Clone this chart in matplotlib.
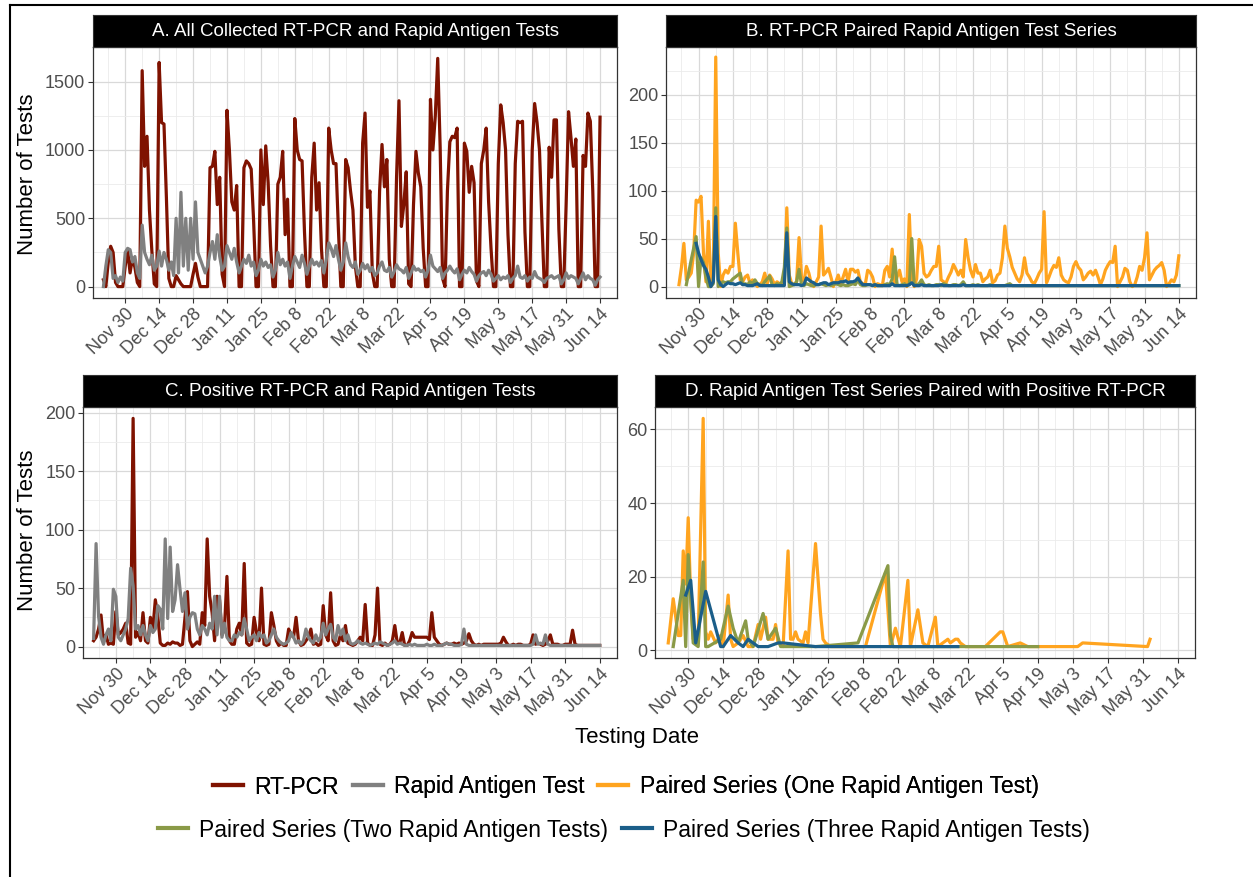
import numpy as np
import pandas as pd
import matplotlib
matplotlib.use("Agg")
import matplotlib.pyplot as plt
import matplotlib.dates as mdates
from matplotlib.lines import Line2D
from matplotlib.ticker import FuncFormatter, MultipleLocator

plt.rcParams['font.family'] = ['Liberation Sans', 'DejaVu Sans']

nan = np.nan
start = pd.Timestamp('2020-11-21')   # first day of data (Saturday)

# ---- daily series, one row per week (Sat..Fri) ----
# A. all collected RT-PCR
rt_all = [50, 0, 180, 295, 250, 30, 0,
          0, 0, 150, 270, 100, 210, 140,
          30, 0, 1580, 880, 1100, 560, 260,
          20, 0, 1640, 1200, 1190, 650, 60,
          0, 0, 80, 50, 20, 0, 0,
          0, 0, 90, 170, 70, 0, 0,
          0, 0, 870, 880, 990, 600, 800,
          90, 0, 1290, 1000, 620, 560, 740,
          0, 0, 870, 920, 900, 860, 480,
          0, 0, 1000, 600, 1030, 760, 300,
          0, 0, 750, 800, 990, 380, 640,
          0, 0, 1230, 1000, 930, 920, 400,
          0, 0, 800, 1050, 560, 760, 280,
          0, 0, 1160, 1000, 900, 900, 420,
          0, 0, 930, 870, 700, 560, 150,
          0, 0, 1050, 1270, 580, 700, 100,
          0, 0, 700, 1040, 730, 930, 200,
          0, 0, 800, 1360, 440, 600, 840,
          20, 0, 600, 990, 830, 730, 280,
          0, 0, 1370, 1000, 1250, 1670, 1020,
          60, 0, 700, 1060, 1100, 1090, 1160,
          0, 0, 1050, 990, 690, 880, 760,
          40, 0, 900, 1000, 1160, 620, 280,
          0, 0, 900, 1330, 1200, 1000, 380,
          0, 0, 900, 1210, 1200, 1210, 400,
          0, 0, 1000, 1340, 1200, 1000, 480,
          0, 0, 1020, 800, 1220, 1220, 420,
          0, 0, 600, 1280, 1090, 880, 1080,
          0, 0, 960, 880, 1270, 1210, 700,
          0, 0, 1240]

# A. all collected rapid antigen tests
rat_all = [0, 150, 270, 250, 60, 80, 30,
           70, 40, 250, 280, 270, 180, 220,
           100, 60, 450, 250, 200, 160, 230,
           120, 150, 260, 150, 250, 200, 120,
           180, 80, 500, 100, 690, 150, 500,
           120, 500, 200, 620, 250, 200, 150,
           100, 150, 250, 330, 200, 380, 220,
           120, 150, 300, 250, 200, 280, 180,
           100, 150, 200, 170, 230, 150, 180,
           80, 120, 200, 150, 180, 140, 160,
           70, 120, 250, 160, 200, 150, 180,
           60, 150, 220, 180, 140, 230, 170,
           90, 150, 200, 160, 180, 150, 190,
           100, 200, 320, 280, 220, 300, 200,
           120, 180, 320, 220, 160, 140, 180,
           90, 120, 170, 130, 160, 110, 140,
           80, 100, 150, 180, 120, 110, 140,
           70, 110, 160, 130, 120, 100, 140,
           60, 100, 150, 120, 130, 110, 120,
           70, 120, 230, 150, 130, 110, 140,
           60, 100, 120, 150, 120, 100, 130,
           50, 90, 120, 100, 140, 110, 90,
           40, 80, 100, 110, 80, 120, 90,
           40, 60, 80, 50, 70, 60, 80,
           30, 60, 80, 150, 70, 60, 80,
           40, 70, 60, 110, 70, 60, 50,
           30, 60, 70, 80, 60, 70, 80,
           20, 50, 100, 60, 80, 70, 60,
           20, 60, 100, 50, 80, 60, 50,
           10, 50, 70]

# C. positive RT-PCR
rt_pos = [5, 8, 15, 27, 4, 10, 2,
          3, 2, 30, 10, 12, 15, 20,
          3, 2, 195, 8, 12, 5, 29,
          5, 3, 25, 15, 40, 26, 3,
          1, 1, 3, 2, 4, 3, 3,
          1, 2, 25, 47, 5, 0, 2,
          4, 2, 29, 18, 92, 43, 29,
          5, 43, 40, 10, 15, 60, 5,
          2, 2, 15, 20, 10, 71, 3,
          1, 2, 25, 12, 5, 50, 2,
          1, 2, 29, 18, 5, 1, 3,
          1, 1, 15, 10, 8, 25, 5,
          1, 2, 5, 8, 15, 2, 3,
          1, 2, 35, 10, 5, 46, 5,
          1, 2, 10, 5, 18, 3, 2,
          1, 2, 5, 8, 5, 36, 3,
          1, 1, 10, 50, 2, 1, 3,
          1, 2, 5, 18, 3, 3, 12,
          1, 1, 5, 12, 8, 8, 8,
          8, 8, 8, 6, 29, 8, 5,
          2, 1, 2, 3, 2, 2, 3,
          2, 3, 2, 3, 5, 11, 5,
          2, 1, 2, 1, 2, 2, 2,
          2, 2, 2, 2, 3, 8, 4,
          1, 1, 2, 1, 2, 2, 1,
          1, 1, 2, 10, 2, 3, 2,
          1, 2, 5, 10, 2, 2, 2,
          1, 1, 2, 2, 2, 14, 2,
          1, 1, 1, 1, 1, 1, 1,
          1, 1, 1]

# C. positive rapid antigen tests
rat_pos = [7, 88, 26, 8, 2, 10, 15,
           5, 49, 43, 8, 5, 10, 15,
           24, 67, 52, 15, 18, 10, 18,
           10, 5, 18, 12, 15, 35, 32,
           15, 92, 24, 85, 30, 40, 70,
           49, 30, 46, 15, 25, 29, 28,
           15, 10, 18, 15, 10, 20, 15,
           43, 10, 43, 8, 20, 8, 5,
           5, 10, 8, 12, 10, 24, 15,
           5, 8, 10, 5, 12, 8, 10,
           3, 5, 10, 15, 8, 5, 3,
           2, 3, 5, 12, 8, 3, 5,
           2, 5, 15, 8, 5, 3, 10,
           5, 8, 20, 10, 15, 19, 8,
           5, 18, 10, 15, 5, 10, 3,
           2, 3, 5, 3, 2, 3, 2,
           1, 2, 3, 2, 4, 3, 2,
           1, 2, 3, 5, 2, 3, 2,
           1, 1, 2, 1, 2, 1, 1,
           1, 1, 2, 1, 1, 2, 1,
           1, 1, 2, 3, 2, 2, 1,
           1, 1, 2, 15, 2, 1, 1,
           1, 1, 1, 1, 1, 1, 1,
           1, 1, 1, 1, 1, 1, 1,
           1, 1, 1, 1, 1, 1, 1,
           1, 1, 1, 2, 10, 2, 3,
           2, 10, 2, 1, 1, 1, 1,
           1, 1, 1, 1, 1, 1, 1,
           1, 1, 1, 1, 1, 1, 1,
           1, 1, 1]

# B. paired series
pair_one = [nan, 2, 20, 45, 7, 10, 14,
            35, 90, 88, 94, 35, 5, 68,
            2, 15, 239, 35, 0, 12, 17,
            14, 21, 21, 66, 35, 7, 5,
            10, 12, 3, 7, 3, 0, 2,
            5, 14, 3, 12, 8, 2, 5,
            3, 2, 5, 82, 12, 3, 2,
            5, 51, 10, 5, 21, 14, 3,
            0, 5, 10, 63, 12, 15, 19,
            10, 0, 5, 12, 3, 10, 18,
            5, 18, 18, 15, 17, 5, 3,
            2, 17, 15, 10, 0, 3, 2,
            1, 17, 21, 10, 39, 2, 10,
            17, 5, 8, 0, 75, 10, 0,
            8, 49, 42, 14, 10, 12, 17,
            21, 21, 42, 7, 5, 4, 10,
            15, 23, 18, 12, 17, 10, 49,
            30, 17, 10, 23, 14, 14, 5,
            8, 10, 17, 4, 6, 12, 14,
            30, 63, 40, 31, 20, 14, 8,
            5, 12, 30, 14, 10, 5, 3,
            8, 14, 18, 78, 4, 10, 17,
            22, 20, 30, 12, 7, 5, 4,
            10, 21, 26, 20, 17, 7, 10,
            14, 16, 12, 17, 10, 2, 8,
            17, 22, 26, 25, 42, 0, 5,
            10, 19, 17, 5, 0, 2, 10,
            21, 17, 30, 56, 7, 12, 17,
            20, 22, 25, 17, 0, 3, 7,
            5, 12, 32]

pair_two = [nan, nan, nan, nan, 2, 15, 28,
            40, 52, 0, 30, 25, 10, 0,
            0, 3, 82, 0, 3, 5, 4,
            5, 5, 8, 10, 12, 14, 2,
            3, 2, 5, 3, 7, 3, 2,
            1, 5, 8, 11, 2, 1, 3,
            2, 5, 20, 61, 0, 1, 2,
            5, 18, 2, 1, 3, 2, 1,
            1, 2, 2, 3, 2, 1, 2,
            1, 2, 3, 2, 1, 2, 1,
            1, 2, 3, 2, 7, 2, 1,
            1, 2, 2, 1, 2, 1, 1,
            1, 2, 3, 2, 8, 31, 2,
            1, 2, 3, 1, 2, 50, 1,
            2, 3, 7, 2, 1, 2, 1,
            1, 2, 2, 1, 3, 2, 1,
            1, 2, 2, 1, 2, 5, 1,
            1, 1, 2, 1, 2, 1, 1,
            1, 1, 2, 1, 1, 1, 1,
            1, 1, 2, 3, 1, 1, 1,
            1, 1, 1, 1, 1, 1, 1,
            1, 1, 1, 1, 1, 1, 1,
            1, 1, 1, 1, 1, 1, 1,
            1, 1, 1, 1, 1, 1, 1,
            1, 1, 1, 1, 1, 1, 1,
            1, 1, 1, 1, 1, 1, 1,
            1, 1, 1, 1, 1, 1, 1,
            1, 1, 1, 1, 1, 1, 1,
            1, 1, 1, 1, 1, 1, 1,
            1, 1, 1]

pair_three = [nan, nan, nan, nan, nan, nan, nan,
              nan, 45, 35, 28, 22, 18, 10,
              0, 5, 73, 7, 2, 0, 2,
              4, 3, 3, 2, 3, 4, 2,
              2, 1, 1, 1, 2, 3, 1,
              1, 1, 1, 1, 1, 1, 1,
              1, 1, 1, 56, 5, 3, 2,
              2, 2, 1, 2, 9, 7, 5,
              4, 2, 2, 3, 4, 4, 2,
              3, 4, 4, 4, 5, 5, 6,
              4, 5, 5, 6, 9, 5, 2,
              2, 2, 2, 1, 2, 1, 1,
              1, 1, 1, 1, 3, 1, 1,
              1, 1, 1, 1, 2, 4, 1,
              1, 1, 2, 1, 1, 1, 1,
              1, 1, 1, 2, 1, 1, 1,
              1, 1, 1, 1, 1, 2, 1,
              1, 1, 1, 1, 1, 1, 1,
              1, 1, 1, 1, 1, 1, 1,
              1, 1, 1, 1, 1, 1, 1,
              1, 1, 1, 1, 1, 1, 1,
              1, 1, 1, 1, 1, 1, 1,
              1, 1, 1, 1, 1, 1, 1,
              1, 1, 1, 1, 1, 1, 1,
              1, 1, 1, 1, 1, 1, 1,
              1, 1, 1, 1, 1, 1, 1,
              1, 1, 1, 1, 1, 1, 1,
              1, 1, 1, 1, 1, 1, 1,
              1, 1, 1, 1, 1, 1, 1,
              1, 1, 1]

# D. paired with positive RT-PCR (sparse days, offset from start)
pos_one_day = [1, 3, 5, 6, 7, 8, 9, 10, 11, 12, 13, 15, 16, 17, 18, 20, 22, 23, 25, 26,
               27, 29, 31, 33, 35, 37, 38, 40, 41, 43, 44, 45, 47, 49, 50, 51, 52, 53, 55, 56,
               57, 60, 62, 63, 64, 66, 70, 80, 88, 90, 92, 94, 97, 98, 101, 103, 105, 108, 109, 111,
               113, 114, 116, 117, 118, 120, 128, 134, 135, 137, 142, 145, 165, 167, 193, 194]
pos_one_val = [2, 14, 4, 4, 27, 18, 36, 14, 3, 5, 3, 63, 5, 3, 5, 2, 4, 1, 15, 3,
               1, 2, 4, 1, 1, 7, 3, 9, 3, 3, 7, 2, 1, 27, 3, 3, 5, 3, 2, 5,
               2, 29, 10, 3, 2, 1, 1, 1, 21, 1, 6, 1, 19, 1, 11, 2, 1, 9, 1, 2,
               3, 2, 3, 3, 2, 1, 1, 5, 5, 1, 2, 1, 1, 2, 1, 3]
pos_two_day = [3, 7, 8, 9, 11, 13, 15, 16, 17, 22, 25, 27, 29, 32, 33, 35, 39, 41, 44, 46,
               50, 60, 77, 89, 90, 91, 100, 120, 149]
pos_two_val = [1, 19, 1, 26, 2, 1, 24, 1, 1, 3, 12, 6, 2, 8, 3, 1, 10, 3, 6, 1,
               1, 1, 2, 23, 4, 1, 1, 1, 1]
pos_three_day = [8, 10, 12, 16, 22, 23, 26, 29, 31, 33, 37, 41, 45, 47, 60, 117]
pos_three_val = [15, 19, 2, 16, 1, 1, 4, 2, 1, 3, 1, 1, 2, 2, 1, 1]

labels = ['RT-PCR', 'Rapid Antigen Test', 'Paired Series (One Rapid Antigen Test)',
          'Paired Series (Two Rapid Antigen Tests)', 'Paired Series (Three Rapid Antigen Tests)']
colors = ['#7F1200', '#808080', '#FFA41F', '#8A9A47', '#1B5E89']
titles = ['A. All Collected RT-PCR and Rapid Antigen Tests',
          'B. RT-PCR Paired Rapid Antigen Test Series',
          'C. Positive RT-PCR and Rapid Antigen Tests',
          'D. Rapid Antigen Test Series Paired with Positive RT-PCR']


def daily(vals):
    return start + pd.to_timedelta(np.arange(len(vals)), unit='D'), np.array(vals, float)


def sparse(days, vals):
    return start + pd.to_timedelta(np.array(days), unit='D'), np.array(vals, float)


W, H = 1253, 877
fig = plt.figure(figsize=(W / 100, H / 100), dpi=100)


def box(l, r, t, b):
    return [l / W, 1 - b / H, (r - l) / W, (b - t) / H]


panels = {'A': (93, 617, 47, 298), 'B': (666, 1196, 47, 298),
          'C': (83, 617, 407, 658), 'D': (655, 1195, 407, 658)}
ylims = {'A': (-83.5, 1753.5), 'B': (-11.9, 249.5), 'C': (-9.75, 204.75), 'D': (-2.1, 66.1)}
ymaj = {'A': 500, 'B': 50, 'C': 50, 'D': 20}

major = pd.date_range('2020-11-30', '2021-06-14', freq='14D')
minor = pd.date_range('2020-11-23', '2021-06-21', freq='14D')
x0 = mdates.date2num(pd.Timestamp('2020-11-30')) - 13.3
x1 = mdates.date2num(pd.Timestamp('2021-06-14')) + 4.9

lw = 2.3
axes = {}
for k, (title, (l, r, t, b)) in zip(panels, zip(titles, panels.values())):
    ax = fig.add_axes(box(l, r, t, b))
    axes[k] = ax
    ax.set_xlim(x0, x1)
    ax.set_ylim(*ylims[k])
    ax.set_xticks(mdates.date2num(major))
    ax.set_xticks(mdates.date2num(minor), minor=True)
    ax.xaxis.set_major_formatter(FuncFormatter(
        lambda v, p: f"{mdates.num2date(v):%b} {mdates.num2date(v).day}"))
    ax.yaxis.set_major_locator(MultipleLocator(ymaj[k]))
    ax.yaxis.set_minor_locator(MultipleLocator(ymaj[k] / 2))
    ax.grid(which='major', color='#D9D9D9', lw=0.9)
    ax.grid(which='minor', color='#EBEBEB', lw=0.6)
    ax.set_axisbelow(True)
    ax.tick_params(which='major', length=3.5, width=0.8, color='#333333',
                   labelsize=13, labelcolor='#4D4D4D', pad=2)
    ax.tick_params(which='minor', length=0)
    for lab in ax.get_xticklabels():
        lab.set_rotation(45)
        lab.set_ha('right')
        lab.set_va('top')
        lab.set_rotation_mode('anchor')
    for s in ax.spines.values():
        s.set_color('#333333')
        s.set_linewidth(0.9)
    # strip
    sax = fig.add_axes(box(l, r, t - 32, t))
    sax.set_facecolor('black')
    sax.set_xticks([])
    sax.set_yticks([])
    for s in sax.spines.values():
        s.set_color('#333333')
    sax.text(0.5, 0.48, title, color='white', fontsize=13.5, ha='center', va='center',
             transform=sax.transAxes)

# panel A
ax = axes['A']
ax.plot(*daily(rt_all), color=colors[0], lw=lw)
ax.plot(*daily(rat_all), color=colors[1], lw=lw)
# panel B
ax = axes['B']
ax.plot(*daily(pair_one), color=colors[2], lw=lw)
ax.plot(*daily(pair_two), color=colors[3], lw=lw)
ax.plot(*daily(pair_three), color=colors[4], lw=lw)
# panel C
ax = axes['C']
ax.plot(*daily(rt_pos), color=colors[0], lw=lw)
ax.plot(*daily(rat_pos), color=colors[1], lw=lw)
# panel D
ax = axes['D']
ax.plot(*sparse(pos_one_day, pos_one_val), color=colors[2], lw=lw)
ax.plot(*sparse(pos_two_day, pos_two_val), color=colors[3], lw=lw)
ax.plot(*sparse(pos_three_day, pos_three_val), color=colors[4], lw=lw)

# axis titles
fig.text(28 / W, 1 - 174 / H, 'Number of Tests', rotation=90, fontsize=16,
         ha='center', va='center')
fig.text(28 / W, 1 - 530 / H, 'Number of Tests', rotation=90, fontsize=16,
         ha='center', va='center')
fig.text(637 / W, 1 - 737 / H, 'Testing Date', fontsize=16, ha='center', va='center')

# legend, two centered rows
handles = [Line2D([], [], color=c, lw=3) for c in colors]
leg_kw = dict(frameon=False, fontsize=16.5, handlelength=1.3, handletextpad=0.5,
              columnspacing=0.6, loc='center')
leg1 = fig.legend(handles[:3], labels[:3], ncol=3,
                  bbox_to_anchor=(626 / W, 1 - 787 / H), **leg_kw)
fig.add_artist(leg1)
fig.legend(handles[3:], labels[3:], ncol=2,
           bbox_to_anchor=(624 / W, 1 - 830 / H), **leg_kw)

# outer frame (top and left edges)
fig.add_artist(Line2D([10 / W, 1], [1 - 5 / H, 1 - 5 / H], color='black', lw=1.5,
                      transform=fig.transFigure))
fig.add_artist(Line2D([10 / W, 10 / W], [0, 1 - 5 / H], color='black', lw=1.5,
                      transform=fig.transFigure))

fig.savefig('out.png', dpi=100)
